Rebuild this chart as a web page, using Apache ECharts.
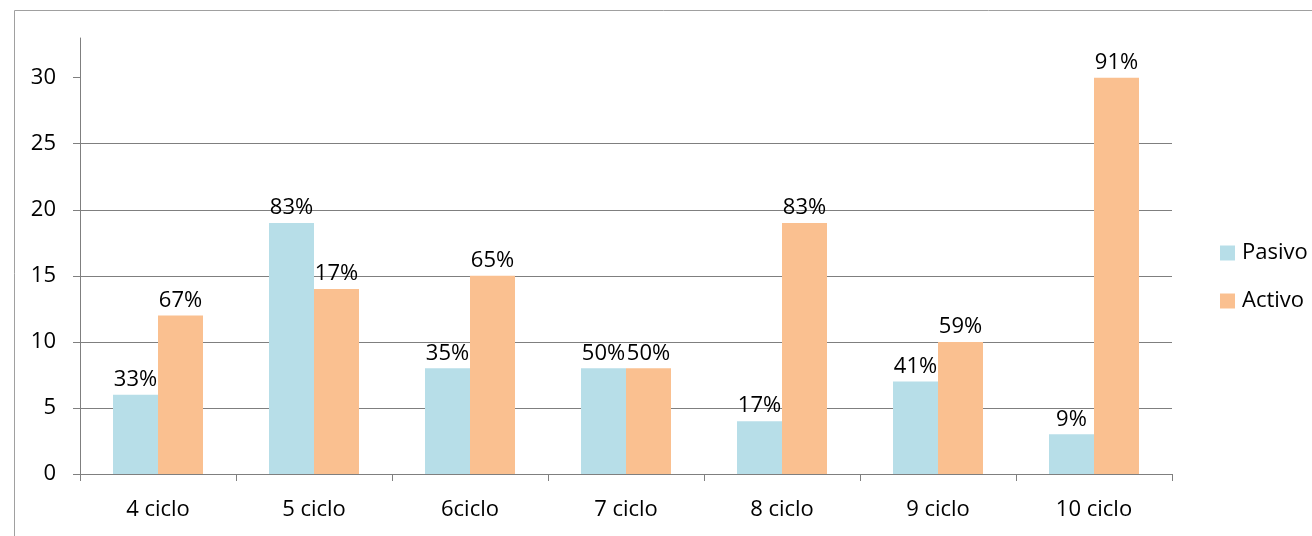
<!DOCTYPE html>
<html>
<head>
<meta charset="utf-8">
<script src="https://cdn.jsdelivr.net/npm/echarts@6/dist/echarts.min.js"></script>
<style>html,body{margin:0;padding:0;background:#fff;}#c{width:1312px;height:536px;}</style>
</head>
<body>
<div id="c"></div>
<script>
const categories = ['4 ciclo', '5 ciclo', '6ciclo', '7 ciclo', '8 ciclo', '9 ciclo', '10 ciclo'];
const pasivo = [6, 19, 8, 8, 4, 7, 3];
const activo = [12, 14, 15, 8, 19, 10, 30];
const pasivoPct = ['33%', '83%', '35%', '50%', '17%', '41%', '9%'];
const activoPct = ['67%', '17%', '65%', '50%', '83%', '59%', '91%'];
const yTicks = [0, 5, 10, 15, 20, 25, 30];

const FONT = 'Open Sans';
const FS = 22;
const chart = echarts.init(document.getElementById('c'));
const axisGray = '#7f7f7f';
chart.setOption({
  animation: false,
  textStyle: { fontFamily: FONT },
  graphic: [{
    type: 'rect', left: 12, top: 8, shape: { width: 1400, height: 600 },
    style: { fill: 'none', stroke: '#a0a0a0', lineWidth: 1 }, silent: true, z: -10
  }],
  grid: { left: 80, top: 38, right: 140, bottom: 62 },
  legend: {
    orient: 'vertical', left: 1215, top: 237, itemWidth: 15, itemHeight: 15, itemGap: 26,
    icon: 'rect',
    textStyle: { fontFamily: FONT, fontSize: FS, color: '#000', padding: [0, 0, 0, 2] },
    data: ['Pasivo', 'Activo']
  },
  xAxis: {
    type: 'category', data: categories,
    axisLine: { lineStyle: { color: axisGray, width: 1 } },
    axisTick: { show: true, length: 7, lineStyle: { color: axisGray } },
    axisLabel: { fontFamily: FONT, fontSize: FS, color: '#000', margin: 25 }
  },
  yAxis: {
    type: 'value', min: 0, max: 33, interval: 5,
    axisLine: { show: true, lineStyle: { color: axisGray, width: 1 } },
    axisTick: { show: true, length: 7, lineStyle: { color: axisGray }, customValues: yTicks },
    axisLabel: { fontFamily: FONT, fontSize: FS, color: '#000', margin: 24, customValues: yTicks },
    splitLine: { show: true, showMaxLine: false, lineStyle: { color: axisGray, width: 1 } }
  },
  series: [
    {
      name: 'Pasivo', type: 'bar', data: pasivo, barWidth: 45, barGap: '0%',
      itemStyle: { color: '#B7DEE8' },
      label: { show: true, position: 'top', distance: 4, fontFamily: FONT, fontSize: FS, color: '#000',
        formatter: p => pasivoPct[p.dataIndex] }
    },
    {
      name: 'Activo', type: 'bar', data: activo, barWidth: 45, barGap: '0%',
      itemStyle: { color: '#FAC090' },
      label: { show: true, position: 'top', distance: 4, fontFamily: FONT, fontSize: FS, color: '#000',
        formatter: p => activoPct[p.dataIndex] }
    }
  ]
});
</script>
</body>
</html>
